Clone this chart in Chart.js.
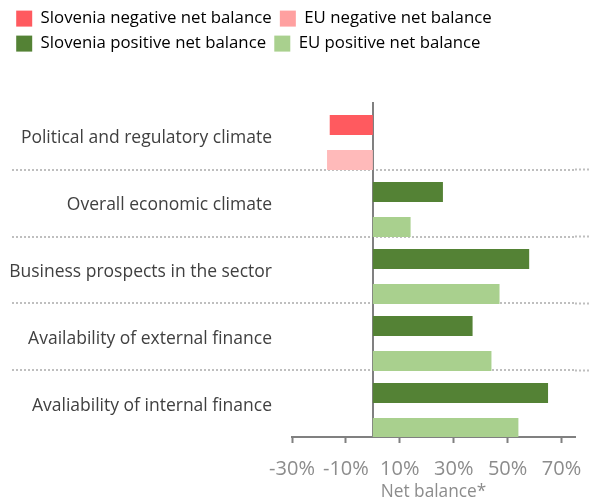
<!DOCTYPE html>
<html>
<head>
<meta charset="utf-8">
<script src="https://cdn.jsdelivr.net/npm/chart.js@4"></script>
<style>
  html, body { margin: 0; padding: 0; background: #fff; }
  #wrap { width: 599px; height: 502px; position: relative; }
</style>
</head>
<body>
<div id="wrap"><canvas id="chart"></canvas></div>
<script>
const categories = [
  "Political and regulatory climate",
  "Overall economic climate",
  "Business prospects in the sector",
  "Availability of external finance",
  "Avaliability of internal finance"
];
const sloValues = [-16, 26, 58, 37, 65];
const euValues = [-17, 14, 47, 44, 54];
const xTicks = [-30, -10, 10, 30, 50, 70];

const SLO_NEG = "#ff5a5f";
const EU_NEG = "#ffbaba";
const EU_NEG_KEY = "#ffa0a0";
const SLO_POS = "#548235";
const EU_POS = "#a9d08e";
const AXIS = "#808080";
const DOTS = "#bfbfbf";

Chart.defaults.font.family = "'Open Sans', sans-serif";

// dotted separators only between categories
const innerLine = ctx => (ctx.index > 0 && ctx.index < categories.length) ? DOTS : "rgba(0,0,0,0)";

const points = vals => vals.map((v, i) => ({ x: v, y: i }));

new Chart(document.getElementById("chart"), {
  type: "bar",
  data: {
    labels: categories,
    datasets: [
      {
        label: "Slovenia",
        data: points(sloValues),
        backgroundColor: sloValues.map(v => v < 0 ? SLO_NEG : SLO_POS),
        xAxisID: "x",
        yAxisID: "yb",
        categoryPercentage: 1.045,
        barPercentage: 0.571
      },
      {
        label: "EU",
        data: points(euValues),
        backgroundColor: euValues.map(v => v < 0 ? EU_NEG : EU_POS),
        xAxisID: "x",
        yAxisID: "yb",
        categoryPercentage: 1.045,
        barPercentage: 0.571
      }
    ]
  },
  options: {
    indexAxis: "y",
    responsive: true,
    maintainAspectRatio: false,
    animation: false,
    layout: { padding: { left: 8, right: 8, top: 2, bottom: 0 } },
    plugins: {
      tooltip: { enabled: false },
      legend: {
        position: "top",
        align: "start",
        onClick: null,
        labels: {
          boxWidth: 16,
          boxHeight: 16,
          padding: 8.2,
          color: "#404040",
          font: { size: 16.8 },
          generateLabels: () => [
            { text: "Slovenia negative net balance", fillStyle: SLO_NEG, strokeStyle: SLO_NEG, lineWidth: 0 },
            { text: "EU negative net balance", fillStyle: EU_NEG_KEY, strokeStyle: EU_NEG_KEY, lineWidth: 0 },
            { text: "Slovenia positive net balance", fillStyle: SLO_POS, strokeStyle: SLO_POS, lineWidth: 0 },
            { text: "EU positive net balance", fillStyle: EU_POS, strokeStyle: EU_POS, lineWidth: 0 }
          ]
        }
      }
    },
    scales: {
      xTop: {
        type: "linear",
        position: "top",
        grid: { display: false },
        border: { display: false },
        ticks: { display: false },
        afterFit: s => { s.height = 41; }
      },
      x: {
        type: "linear",
        position: "bottom",
        min: -30,
        max: 75,
        afterBuildTicks: s => { s.ticks = xTicks.map(v => ({ value: v })); },
        afterFit: s => { s.height = 65; },
        ticks: {
          color: "#8c8c8c",
          font: { size: 20 },
          padding: 14,
          callback: v => v + "%"
        },
        grid: { drawOnChartArea: false, tickLength: 6, tickColor: AXIS, tickWidth: 2 },
        border: { color: AXIS, width: 2 },
        title: {
          display: true,
          text: "Net balance*",
          color: "#8c8c8c",
          font: { size: 17.3 },
          padding: { top: 0, bottom: 0 }
        }
      },
      y: {
        type: "category",
        position: "left",
        offset: true,
        afterFit: s => { s.width = 284; },
        ticks: { color: "#404040", font: { size: 17.5 }, padding: -260, labelOffset: 2 },
        grid: {
          offset: true,
          color: innerLine,
          lineWidth: 2,
          tickLength: 280,
          tickColor: innerLine,
          tickWidth: 2,
          tickBorderDash: [2, 2]
        },
        border: { display: false, dash: [2, 2] }
      },
      yr: {
        type: "category",
        position: "right",
        offset: true,
        ticks: { display: false },
        grid: {
          offset: true,
          drawOnChartArea: false,
          tickLength: 16,
          tickColor: innerLine,
          tickWidth: 2,
          tickBorderDash: [2, 2]
        },
        border: { display: false }
      },
      yb: {
        type: "linear",
        position: { x: 0 },
        reverse: true,
        offset: false,
        min: -0.59,
        max: 4.395,
        afterBuildTicks: s => { s.ticks = categories.map((c, i) => ({ value: i })); },
        ticks: { display: false },
        grid: { display: false },
        border: { color: AXIS, width: 2 }
      }
    }
  }
});
</script>
</body>
</html>
